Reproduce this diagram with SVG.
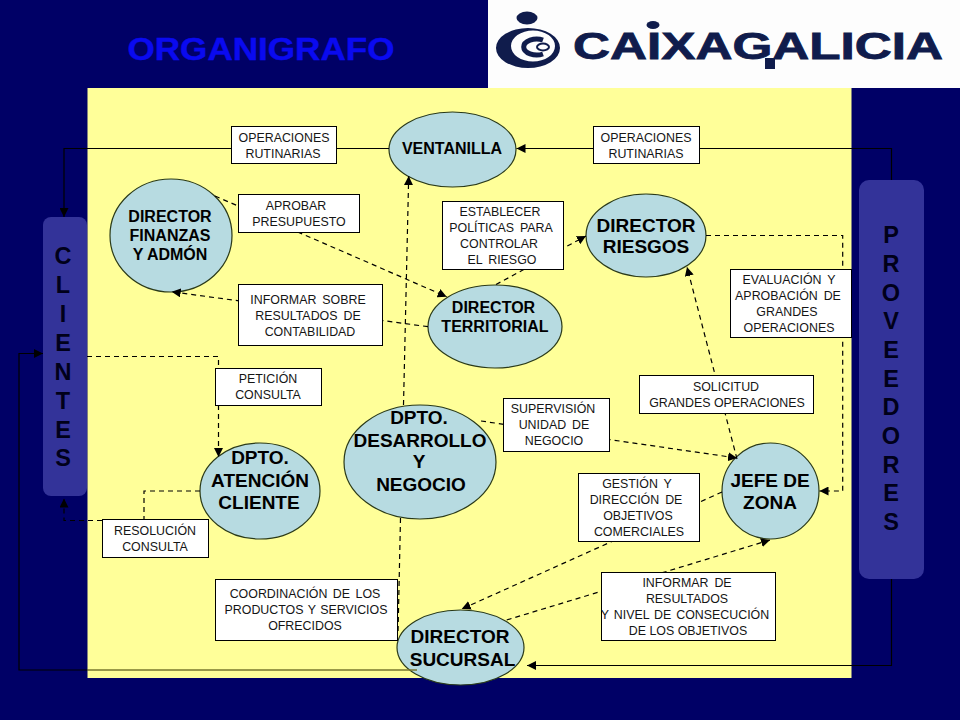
<svg xmlns="http://www.w3.org/2000/svg" width="960" height="720" viewBox="0 0 960 720">
<style>
text{font-family:"Liberation Sans",Arial,sans-serif;text-anchor:middle}
.e{fill:#B7DBE1;stroke:#2a3a1a;stroke-width:1.2}
.b{fill:#fff;stroke:#000;stroke-width:1}
.t{font-size:12.4px;fill:#151515}
.w{word-spacing:2.5px}
.s{font-size:16px;font-weight:700;fill:#000}
.l{font-size:19px;font-weight:700;fill:#000}
.p{fill:#333399}
.k{font-size:23.5px;font-weight:700;fill:#00001a}
.c{fill:none;stroke:#000;stroke-width:1.2}
.d{fill:none;stroke:#000;stroke-width:1.2;stroke-dasharray:5 4}
.a{marker-end:url(#arrow)}
</style>
<defs>
<marker id="arrow" markerUnits="userSpaceOnUse" markerWidth="10" markerHeight="9" refX="9" refY="4.5" orient="auto"><path d="M0 0L9 4.5L0 9Z" fill="#000"/></marker>
</defs>
<rect width="960" height="720" fill="#000066"/>
<rect x="87.5" y="88" width="764" height="590" fill="#FFFF99"/>
<text x="261" y="60" font-size="31" font-weight="700" fill="#0A0AF0" stroke="#0A0AF0" stroke-width="0.4" textLength="267" lengthAdjust="spacingAndGlyphs">ORGANIGRAFO</text>
<g id="logo">
<rect x="488" y="0" width="472" height="88" fill="#FDFDFD"/>
<ellipse cx="527" cy="18" rx="10.5" ry="6.5" fill="#101c4c"/>
<path fill-rule="evenodd" d="M496 48A32 20 0 1 0 560 48A32 20 0 1 0 496 48ZM511 46A22 15.5 0 1 1 555 46A22 15.5 0 1 1 511 46Z" fill="#101c4c"/>
<path d="M543 40A13 8 0 1 0 543 54" fill="none" stroke="#101c4c" stroke-width="5"/>
<ellipse cx="543" cy="47" rx="6" ry="3.5" fill="none" stroke="#101c4c" stroke-width="2"/>
<ellipse cx="653" cy="25" rx="6.5" ry="4" fill="#101c4c"/>
<rect x="765" y="58" width="10" height="11" fill="#101c4c"/>
<text x="758" y="59" font-size="36" font-weight="700" fill="#101c4c" stroke="#101c4c" stroke-width="0.8" textLength="370" lengthAdjust="spacingAndGlyphs">CAIXAGALICIA</text>
</g>

<g id="n-ventanilla"><ellipse class="e" cx="452.5" cy="149.5" rx="63.5" ry="37.5"/><text class="s" x="452" y="154">VENTANILLA</text></g>
<g id="n-finanzas"><ellipse class="e" cx="171" cy="235.5" rx="61" ry="56.5"/><text class="s" x="170" y="222">DIRECTOR</text><text class="s" x="170" y="241">FINANZAS</text><text class="s" x="170" y="260">Y ADMÓN</text></g>
<g id="n-riesgos"><ellipse class="e" cx="646" cy="235.5" rx="60" ry="41.5"/><text class="l" x="646" y="232">DIRECTOR</text><text class="l" x="646" y="253">RIESGOS</text></g>
<g id="n-territorial"><ellipse class="e" cx="495" cy="326.5" rx="67" ry="41.5"/><text class="s" x="493.5" y="313">DIRECTOR</text><text class="s" x="495" y="332">TERRITORIAL</text></g>
<g id="n-desarrollo"><ellipse class="e" cx="420" cy="462" rx="76" ry="57"/><text class="l" x="419" y="424">DPTO.</text><text class="l" x="420" y="447">DESARROLLO</text><text class="l" x="419" y="468">Y</text><text class="l" x="421" y="491">NEGOCIO</text></g>
<g id="n-atencion"><ellipse class="e" cx="260" cy="491" rx="60" ry="48"/><text class="l" x="260" y="464">DPTO.</text><text class="l" x="260" y="487">ATENCIÓN</text><text class="l" x="259" y="509">CLIENTE</text></g>
<g id="n-jefe"><ellipse class="e" cx="770.5" cy="491" rx="48.5" ry="48"/><text class="l" x="770" y="487">JEFE DE</text><text class="l" x="770" y="509">ZONA</text></g>
<g id="n-sucursal"><ellipse class="e" cx="460.5" cy="647.5" rx="63.5" ry="37.5"/><text class="l" x="460" y="643">DIRECTOR</text><text class="l" x="462.5" y="666">SUCURSAL</text></g>

<g id="n-clientes"><rect class="p" x="43" y="217" width="44" height="279" rx="8"/>
<text class="k" x="63" y="264">C</text><text class="k" x="63" y="293">L</text><text class="k" x="63" y="322">I</text><text class="k" x="63" y="351">E</text><text class="k" x="63" y="380">N</text><text class="k" x="63" y="409">T</text><text class="k" x="63" y="438">E</text><text class="k" x="63" y="466">S</text></g>
<g id="n-proveedores"><rect class="p" x="859" y="180" width="65" height="399" rx="10"/>
<text class="k" x="891" y="243">P</text><text class="k" x="891" y="272">R</text><text class="k" x="891" y="301">O</text><text class="k" x="891" y="329">V</text><text class="k" x="891" y="358">E</text><text class="k" x="891" y="387">E</text><text class="k" x="891" y="415">D</text><text class="k" x="891" y="444">O</text><text class="k" x="891" y="473">R</text><text class="k" x="891" y="501">E</text><text class="k" x="891" y="530">S</text></g>

<g id="connectors">
<path class="c a" d="M389 148.5H64V217"/>
<path class="c a" d="M891.5 180V148.5H516.5"/>
<path class="c a" d="M891.5 579V665.5H527"/>
<path d="M417 670H87.5" fill="none" stroke="#77772e" stroke-width="1.6"/>
<path class="c a" d="M87.5 670H19V353.5H43"/>
<path class="d a" d="M215 196L446.7 296.7"/>
<path class="d a" d="M428 326.7L171.7 291.7"/>
<path class="d a" d="M403.5 405L408.7 176"/>
<path class="d a" d="M496 284.5L586 236"/>
<path class="d a" d="M706 235.5H842.7V491H819.5"/>
<path class="d a" d="M737 459L687 267"/>
<path class="d a" d="M87 356.5H218.5V457"/>
<path class="d" d="M200 491H144V520"/>
<path class="d a" d="M102 520.5H64V498.5"/>
<path class="d a" d="M481 421L737 458"/>
<path class="d" d="M400.5 518L398 634"/>
<path class="d a" d="M722 492L461.7 609"/>
<path class="d a" d="M506.7 620L770 540"/>
</g>

<g id="b-op1"><rect class="b" x="231.5" y="126.5" width="105" height="37"/><text class="t" x="284" y="142">OPERACIONES</text><text class="t" x="283" y="158">RUTINARIAS</text></g>
<g id="b-op2"><rect class="b" x="593.5" y="126.5" width="106" height="37"/><text class="t" x="646" y="142">OPERACIONES</text><text class="t" x="646" y="158">RUTINARIAS</text></g>
<g id="b-aprobar"><rect class="b" x="238.5" y="194.5" width="121" height="38"/><text class="t" x="296" y="210">APROBAR</text><text class="t" x="299" y="226">PRESUPUESTO</text></g>
<g id="b-establecer"><rect class="b" x="442.5" y="201.5" width="121" height="68"/><text class="t" x="500" y="216">ESTABLECER</text><text class="t w" x="501" y="232">POLÍTICAS PARA</text><text class="t" x="499" y="248">CONTROLAR</text><text class="t w" x="502" y="264">EL RIESGO</text></g>
<g id="b-informar"><rect class="b" x="238.5" y="284.5" width="144" height="61"/><text class="t w" x="308" y="304">INFORMAR SOBRE</text><text class="t w" x="308" y="320">RESULTADOS DE</text><text class="t" x="310" y="336">CONTABILIDAD</text></g>
<g id="b-peticion"><rect class="b" x="215.5" y="368.5" width="106" height="37"/><text class="t" x="268" y="383">PETICIÓN</text><text class="t" x="268" y="399">CONSULTA</text></g>
<g id="b-supervision"><rect class="b" x="503.5" y="398.5" width="106" height="53"/><text class="t" x="553" y="413">SUPERVISIÓN</text><text class="t w" x="554" y="429">UNIDAD DE</text><text class="t" x="554" y="445">NEGOCIO</text></g>
<g id="b-solicitud"><rect class="b" x="639.5" y="375.5" width="174" height="38"/><text class="t" x="726" y="391">SOLICITUD</text><text class="t" x="727" y="407">GRANDES OPERACIONES</text></g>
<g id="b-evaluacion"><rect class="b" x="730.5" y="269.5" width="121" height="68"/><text class="t w" x="789" y="284">EVALUACIÓN Y</text><text class="t w" x="788" y="300">APROBACIÓN DE</text><text class="t" x="787" y="316">GRANDES</text><text class="t" x="789" y="332">OPERACIONES</text></g>
<g id="b-gestion"><rect class="b" x="578.5" y="473.5" width="121" height="68"/><text class="t w" x="637" y="488">GESTIÓN Y</text><text class="t w" x="636" y="504">DIRECCIÓN DE</text><text class="t" x="638" y="520">OBJETIVOS</text><text class="t" x="639" y="536">COMERCIALES</text></g>
<g id="b-resolucion"><rect class="b" x="102.5" y="519.5" width="106" height="38"/><text class="t" x="155" y="535">RESOLUCIÓN</text><text class="t" x="155" y="551">CONSULTA</text></g>
<g id="b-coordinacion"><rect class="b" x="215.5" y="579.5" width="182" height="61"/><text class="t" x="305" y="598" style="word-spacing:2px">COORDINACIÓN DE LOS</text><text class="t" x="306" y="614" style="word-spacing:1px">PRODUCTOS Y SERVICIOS</text><text class="t" x="305" y="630">OFRECIDOS</text></g>
<g id="b-informar2"><rect class="b" x="601.5" y="572.5" width="174" height="68"/><text class="t w" x="687" y="587">INFORMAR DE</text><text class="t" x="687" y="603">RESULTADOS</text><text class="t" x="685" y="619" style="word-spacing:1.5px">Y NIVEL DE CONSECUCIÓN</text><text class="t" x="688" y="635">DE LOS OBJETIVOS</text></g>
</svg>
